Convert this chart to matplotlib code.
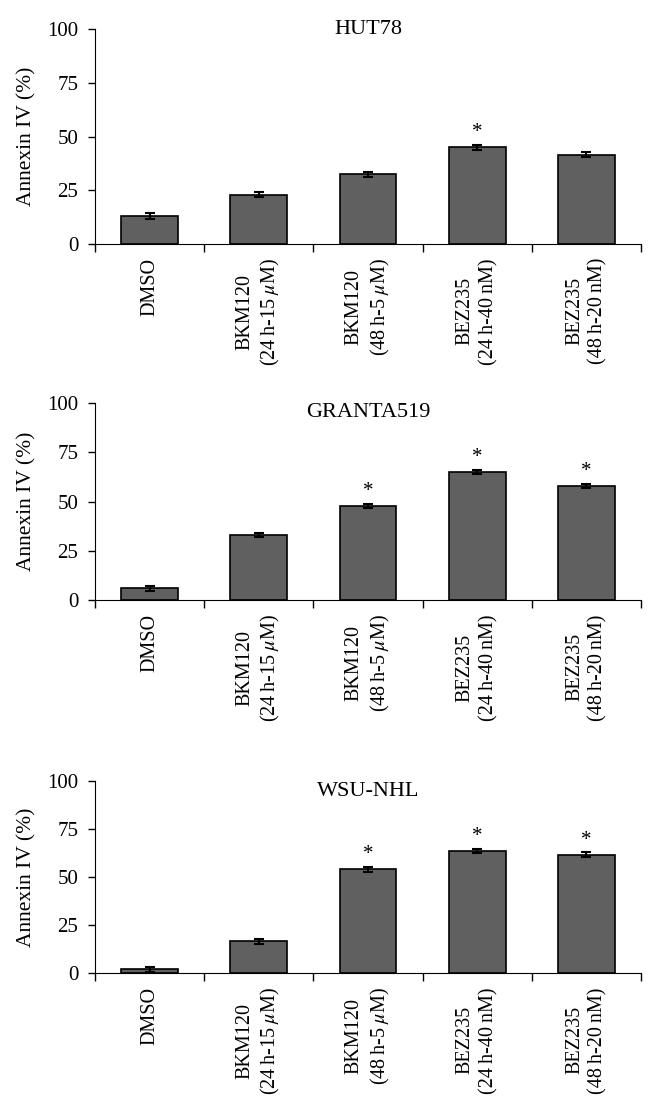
import matplotlib
matplotlib.use("Agg")
import matplotlib.pyplot as plt
import numpy as np

plt.rcParams["font.family"] = ["Liberation Serif", "DejaVu Serif"]
plt.rcParams["mathtext.fontset"] = "stix"

categories = [
    "DMSO",
    "BKM120\n(24\u2009h-15\u2009$\\mu$M)",
    "BKM120\n(48\u2009h-5\u2009$\\mu$M)",
    "BEZ235\n(24\u2009h-40\u2009nM)",
    "BEZ235\n(48\u2009h-20\u2009nM)",
]
panel_titles = ["HUT78", "GRANTA519", "WSU-NHL"]

hut78_values = [13, 23, 32.5, 45, 41.5]
hut78_errors = [1.3, 1.3, 1.2, 1.2, 1.2]
hut78_signif = [False, False, False, True, False]

granta_values = [6, 33, 48, 65, 58]
granta_errors = [1.3, 1.1, 1.1, 1.1, 1.1]
granta_signif = [False, False, True, True, True]

wsu_values = [2, 16.5, 54, 63.5, 61.5]
wsu_errors = [1.4, 1.2, 1.2, 1.2, 1.2]
wsu_signif = [False, False, True, True, True]

panels = [
    (hut78_values, hut78_errors, hut78_signif),
    (granta_values, granta_errors, granta_signif),
    (wsu_values, wsu_errors, wsu_signif),
]

# axes boxes in figure fractions (left, bottom, width, height)
boxes = [
    [0.145, 0.782, 0.832, 0.192],
    [0.145, 0.464, 0.832, 0.176],
    [0.145, 0.131, 0.832, 0.172],
]
title_y = [1.0, 0.955, 0.945]

fig = plt.figure(figsize=(6.56, 11.2), dpi=100)

for (vals, errs, sig), title, box, ty in zip(panels, panel_titles, boxes, title_y):
    ax = fig.add_axes(box)
    x = np.arange(len(categories))
    ax.bar(x, vals, width=0.52, color="#606060", edgecolor="black",
           linewidth=1.2, zorder=2)
    ax.errorbar(x, vals, yerr=errs, fmt="none", ecolor="black",
                elinewidth=1.5, capsize=3.5, capthick=1.5, zorder=3)
    for xi, v, e, s in zip(x, vals, errs, sig):
        if s:
            ax.text(xi, v + e + 1.5, "*", ha="center", va="bottom",
                    fontsize=15)

    ax.set_xlim(-0.5, len(categories) - 0.5)
    ax.set_ylim(0, 100)
    ax.set_yticks([0, 25, 50, 75, 100])
    ax.tick_params(axis="y", direction="out", length=5, width=1,
                   labelsize=15, pad=7)

    # category labels under bars, ticks at category borders
    ax.set_xticks(x)
    ax.set_xticklabels(categories, rotation=90, fontsize=14.5,
                       va="top", ha="center", multialignment="center",
                       linespacing=1.3)
    ax.tick_params(axis="x", which="major", length=0, pad=10)
    ax.set_xticks(np.arange(-0.5, len(categories)), minor=True)
    ax.tick_params(axis="x", which="minor", direction="out", length=6,
                   width=1)

    ax.spines["top"].set_visible(False)
    ax.spines["right"].set_visible(False)
    ax.set_ylabel("Annexin IV (%)", fontsize=15.5, labelpad=8)
    ax.text(0.5, ty, title, transform=ax.transAxes, ha="center",
            va="center", fontsize=16)

fig.savefig("out.png", dpi=100, facecolor="white")
